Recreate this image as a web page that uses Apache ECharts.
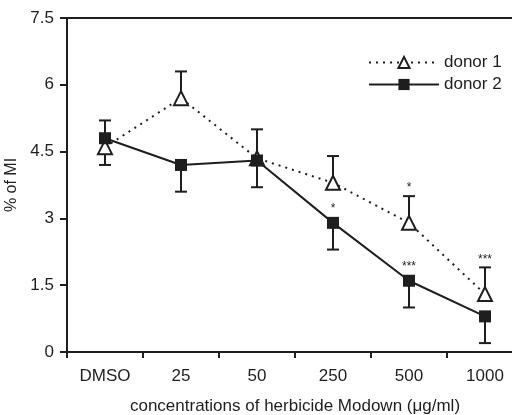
<!DOCTYPE html>
<html><head><meta charset="utf-8">
<script src="https://cdn.jsdelivr.net/npm/echarts@6/dist/echarts.min.js"></script>
<style>html,body{margin:0;padding:0;background:#fff}#c{width:512px;height:415px}</style>
</head><body><div id="c"></div>
<script>
const categories = ['DMSO', '25', '50', '250', '500', '1000'];
const yTicks = [0, 1.5, 3, 4.5, 6, 7.5];
const donor1 = [4.6, 5.7, 4.35, 3.8, 2.9, 1.3];
const donor1Up = [0, 0.6, 0.65, 0.6, 0.6, 0.6];
const donor1Down = [0.4, 0, 0, 0, 0, 0];
const donor1Stars = ['', '', '', '', '*', '***'];
const donor2 = [4.8, 4.2, 4.3, 2.9, 1.6, 0.8];
const donor2Up = [0.4, 0, 0, 0, 0, 0];
const donor2Down = [0, 0.6, 0.6, 0.6, 0.6, 0.6];
const donor2Stars = ['', '', '', '*', '***', '***'];

const ink = '#1e1e1e';
const font = 'Liberation Sans, Arial, sans-serif';
const chart = echarts.init(document.getElementById('c'));

function errData(vals, up, down, stars) {
  return vals.map((v, i) => [i, v, v + up[i], v - down[i], stars[i]]);
}
function errSeries(vals, up, down, stars, z) {
  return {
    type: 'custom', z: z, silent: true, clip: false,
    data: errData(vals, up, down, stars),
    renderItem: function (params, api) {
      const x = api.value(0), v = api.value(1), hi = api.value(2), lo = api.value(3);
      const star = api.value(4);
      const pm = api.coord([x, v]), ph = api.coord([x, hi]), pl = api.coord([x, lo]);
      const cap = 6;
      const children = [];
      const st = { stroke: ink, lineWidth: 2 };
      if (ph[1] < pm[1] - 0.5) {
        children.push({ type: 'line', shape: { x1: pm[0], y1: pm[1], x2: ph[0], y2: ph[1] }, style: st });
        children.push({ type: 'line', shape: { x1: ph[0] - cap, y1: ph[1], x2: ph[0] + cap, y2: ph[1] }, style: st });
      }
      if (pl[1] > pm[1] + 0.5) {
        children.push({ type: 'line', shape: { x1: pm[0], y1: pm[1], x2: pl[0], y2: pl[1] }, style: st });
        children.push({ type: 'line', shape: { x1: pl[0] - cap, y1: pl[1], x2: pl[0] + cap, y2: pl[1] }, style: st });
      }
      if (star) {
        const ty = Math.min(ph[1], pm[1] - 6) - 2;
        children.push({ type: 'text', style: { text: star, x: pm[0], y: ty, align: 'center', verticalAlign: 'bottom', fill: ink, font: '12px ' + font } });
      }
      return { type: 'group', children: children };
    }
  };
}

chart.setOption({
  animation: false,
  backgroundColor: '#fff',
  grid: { left: 67, top: 18, width: 456, height: 334, outerBoundsMode: 'none', containLabel: false },
  legend: {
    left: 363, top: 49, orient: 'vertical', itemGap: 5,
    itemWidth: 70, itemHeight: 14,
    textStyle: { color: ink, fontSize: 17, fontFamily: font, padding: [0, 0, 0, 0] },
    data: ['donor 1', 'donor 2']
  },
  xAxis: [{
    type: 'category', data: categories, boundaryGap: true,
    axisLine: { lineStyle: { color: ink, width: 2 } },
    axisTick: { show: true, length: 6, lineStyle: { color: ink, width: 2 } },
    axisLabel: { color: ink, fontSize: 17, fontFamily: font, margin: 16 },
    name: 'concentrations of herbicide Modown (\u03bcg/ml)',
    nameLocation: 'middle', nameGap: 46,
    nameTextStyle: { color: ink, fontSize: 17, fontFamily: font }
  }, {
    type: 'category', data: categories, position: 'top',
    axisLine: { show: true, lineStyle: { color: ink, width: 2 } },
    axisTick: { show: false }, axisLabel: { show: false }
  }],
  yAxis: {
    type: 'value', min: 0, max: 7.5, interval: 1.5,
    axisLine: { show: true, lineStyle: { color: ink, width: 2 } },
    axisTick: { show: true, length: 7, lineStyle: { color: ink, width: 2 } },
    splitLine: { show: false },
    axisLabel: { color: ink, fontSize: 17, fontFamily: font, margin: 13,
      formatter: v => yTicks.indexOf(v) >= 0 ? String(v) : '' },
    name: '% of MI', nameLocation: 'middle', nameGap: 42,
    nameTextStyle: { color: ink, fontSize: 16, fontFamily: font }
  },
  series: [
    errSeries(donor1, donor1Up, donor1Down, donor1Stars, 2),
    errSeries(donor2, donor2Up, donor2Down, donor2Stars, 2),
    {
      name: 'donor 1', type: 'line', data: donor1, z: 3,
      symbol: 'triangle', symbolSize: 14,
      lineStyle: { color: ink, width: 2, type: [2, 5] },
      itemStyle: { color: '#fff', borderColor: ink, borderWidth: 2 }
    },
    {
      name: 'donor 2', type: 'line', data: donor2, z: 4,
      symbol: 'rect', symbolSize: 12,
      lineStyle: { color: ink, width: 2 },
      itemStyle: { color: ink, borderColor: ink, borderWidth: 0 }
    }
  ]
});
</script></body></html>
